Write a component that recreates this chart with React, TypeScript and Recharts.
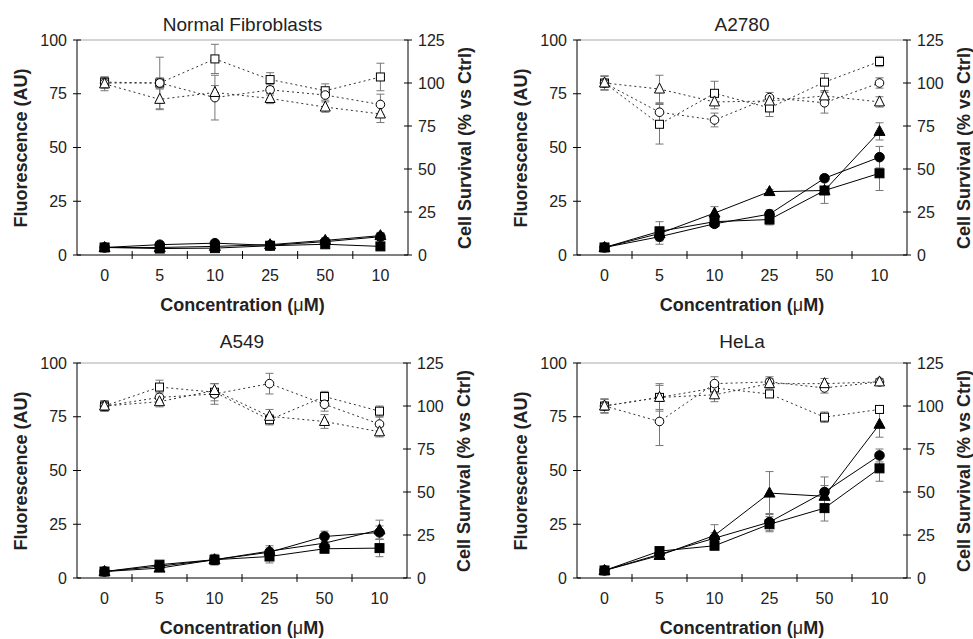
import React from 'react';
import { ComposedChart, Line, XAxis, YAxis, ErrorBar, ReferenceLine } from 'recharts';

const concentrations = ['0', '5', '10', '25', '50', '100'];
const concLabels = ['0', '5', '10', '25', '50', '10'];
const fluoTicks = [0, 25, 50, 75, 100];
const survTicks = [0, 25, 50, 75, 100, 125];

// Normal Fibroblasts
const nfFluoCircle = [3.5, 4.8, 5.5, 4.5, 6.2, 8.5];
const nfFluoCircleErr = [0.5, 0.8, 0.8, 0.8, 1.2, 1.5];
const nfFluoSquare = [3.5, 3.0, 3.2, 4.3, 5.0, 4.0];
const nfFluoSquareErr = [0.5, 0.6, 0.6, 0.8, 1.0, 1.0];
const nfFluoTriangle = [3.5, 3.5, 4.0, 4.8, 6.8, 9.0];
const nfFluoTriangleErr = [0.5, 0.6, 0.8, 0.8, 1.2, 1.5];
const nfSurvCircle = [100, 100, 91.5, 96, 93, 87.5];
const nfSurvCircleErr = [3, 3, 13, 3, 3, 6];
const nfSurvSquare = [100.5, 100, 114, 102, 95.5, 103.5];
const nfSurvSquareErr = [3, 15, 8.5, 4, 4, 8];
const nfSurvTriangle = [99.5, 90.5, 94.5, 91, 86, 82];
const nfSurvTriangleErr = [4, 6, 4, 3, 3, 5];

// A2780
const a2FluoCircle = [3.5, 8.5, 14.5, 19, 35.7, 45.5];
const a2FluoCircleErr = [0.5, 3.5, 1.5, 2, 1.5, 5];
const a2FluoSquare = [3.5, 11, 15.5, 16.5, 30, 38];
const a2FluoSquareErr = [0.5, 4.5, 1.5, 2.5, 6, 8];
const a2FluoTriangle = [3.5, 10, 19.5, 29.5, 30, 57.5];
const a2FluoTriangleErr = [0.5, 3, 3, 1, 1.5, 4];
const a2SurvCircle = [100, 83, 78.5, 91.5, 88.5, 100];
const a2SurvCircleErr = [4, 5, 4, 3, 6, 3];
const a2SurvSquare = [100, 76, 94, 85.5, 100.5, 112.5];
const a2SurvSquareErr = [4, 11.5, 7, 5, 5, 3];
const a2SurvTriangle = [100, 96.5, 89, 89.5, 92.5, 89];
const a2SurvTriangleErr = [4, 8, 4, 3, 3, 3];

// A549
const a5FluoCircle = [3, 5.5, 8.5, 12, 19.3, 21.2];
const a5FluoCircleErr = [0.5, 1, 1.5, 2, 2.5, 3];
const a5FluoSquare = [3, 6.2, 8.5, 10, 13.6, 13.9];
const a5FluoSquareErr = [0.5, 1.5, 2.5, 3, 1.5, 4];
const a5FluoTriangle = [3, 4.6, 8.5, 12.5, 16.2, 22.4];
const a5FluoTriangleErr = [0.5, 1, 2, 2.5, 2, 4.5];
const a5SurvCircle = [100, 105, 107, 113, 101, 89.5];
const a5SurvCircleErr = [3, 3, 6, 6, 4, 4];
const a5SurvSquare = [100, 111, 108, 92, 105.5, 97];
const a5SurvSquareErr = [3, 4, 5, 3, 3, 3];
const a5SurvTriangle = [100, 102.5, 109, 94, 91, 85];
const a5SurvTriangleErr = [3, 3, 4, 4, 4, 3];

// HeLa
const hlFluoCircle = [3.5, 11, 18.5, 26, 40, 57];
const hlFluoCircleErr = [0.5, 1.5, 2.5, 4, 7, 3];
const hlFluoSquare = [3.5, 12.5, 15, 25, 32.5, 51];
const hlFluoSquareErr = [0.5, 2, 1.5, 3.5, 6, 6];
const hlFluoTriangle = [3.5, 10.5, 19.8, 39.5, 38, 71.5];
const hlFluoTriangleErr = [0.5, 1.5, 5, 10, 5, 6];
const hlSurvCircle = [100, 91, 113, 114, 110.5, 114];
const hlSurvCircleErr = [4, 14, 4, 3, 3, 2];
const hlSurvSquare = [100, 105, 110.5, 107, 93.5, 98];
const hlSurvSquareErr = [4, 8, 3, 2, 3, 2];
const hlSurvTriangle = [100, 105, 106.5, 113, 113, 114];
const hlSurvTriangleErr = [4, 7, 4, 3, 3, 2];

const FONT = '"Liberation Sans", Arial, Helvetica, sans-serif';

const buildRows = (s: number[][]) =>
  concentrations.map((c, i) => ({
    conc: c,
    fc: s[0][i], fcE: s[1][i],
    fs: s[2][i], fsE: s[3][i],
    ft: s[4][i], ftE: s[5][i],
    sc: s[6][i], scE: s[7][i],
    ss: s[8][i], ssE: s[9][i],
    st: s[10][i], stE: s[11][i],
  }));

const Marker = ({ cx, cy, shape, filled }: any) => {
  const fill = filled ? '#000' : '#fff';
  if (shape === 'circle') {
    return <circle cx={cx} cy={cy} r={filled ? 4.8 : 4.3} fill={fill} stroke="#000" strokeWidth={1} />;
  }
  if (shape === 'square') {
    const h = filled ? 4.5 : 4;
    return <rect x={cx - h} y={cy - h} width={h * 2} height={h * 2} fill={fill} stroke="#000" strokeWidth={1} />;
  }
  const w = filled ? 5.5 : 5;
  return (
    <polygon
      points={`${cx},${cy - 6} ${cx - w},${cy + 4} ${cx + w},${cy + 4}`}
      fill={fill}
      stroke="#000"
      strokeWidth={1}
    />
  );
};

const makeDot = (shape: string, filled: boolean) => (props: any) => {
  const { cx, cy, index } = props;
  const key = `${shape}-${filled}-${index}`;
  if (cx == null || cy == null) return <g key={key} />;
  return <Marker key={key} cx={cx} cy={cy} shape={shape} filled={filled} />;
};

const YTick = ({ x, y, payload, side }: any) => {
  const left = side === 'left';
  return (
    <g>
      <line x1={x - 4} y1={y} x2={x + 4} y2={y} stroke="#000" />
      <text
        x={left ? x - 10 : x + 10}
        y={y + 5.5}
        textAnchor={left ? 'end' : 'start'}
        fontSize={16}
        fontFamily={FONT}
        fill="#222"
      >
        {payload.value}
      </text>
    </g>
  );
};

const XTick = ({ x, y, payload, index, band }: any) => (
  <g>
    {index > 0 && <line x1={x - band / 2} y1={y - 4} x2={x - band / 2} y2={y + 4} stroke="#000" />}
    <text x={x} y={y + 26} textAnchor="middle" fontSize={16} fontFamily={FONT} fill="#222">
      {concLabels[index]}
    </text>
  </g>
);

interface PanelProps {
  title: string;
  series: number[][];
  box: { left: number; top: number; width: number; height: number };
  plot: { left: number; right: number; top: number; bottom: number };
  titleGap: number;
}

const Panel: React.FC<PanelProps> = ({ title, series, box, plot, titleGap }) => {
  const rows = buildRows(series);
  const axisW = 50;
  const xAxisH = 40;
  const margin = {
    top: plot.top - box.top,
    left: plot.left - box.left - axisW,
    right: box.left + box.width - plot.right - axisW,
    bottom: box.top + box.height - plot.bottom - xAxisH,
  };
  const band = (plot.right - plot.left) / concentrations.length;
  const midX = (plot.left + plot.right) / 2;
  const midY = (plot.top + plot.bottom) / 2;
  const errStyle = { stroke: '#777', strokeWidth: 1 };

  return (
    <>
      <div style={{ position: 'absolute', left: box.left, top: box.top }}>
        <ComposedChart width={box.width} height={box.height} data={rows} margin={margin}>
          <XAxis
            dataKey="conc"
            scale="band"
            tickSize={0}
            tickMargin={0}
            height={xAxisH}
            stroke="#000"
            tick={<XTick band={band} />}
            interval={0}
          />
          <YAxis
            yAxisId="left"
            domain={[0, 100]}
            ticks={fluoTicks}
            width={axisW}
            tickSize={0}
            tickMargin={0}
            stroke="#000"
            tick={<YTick side="left" />}
          />
          <YAxis
            yAxisId="right"
            orientation="right"
            domain={[0, 125]}
            ticks={survTicks}
            width={axisW}
            tickSize={0}
            tickMargin={0}
            stroke="#000"
            tick={<YTick side="right" />}
          />
          <ReferenceLine yAxisId="left" y={100} stroke="#aaa" strokeWidth={1} />

          <Line yAxisId="right" dataKey="ss" stroke="#333" strokeDasharray="2 3" dot={makeDot('square', false)} isAnimationActive={false}>
            <ErrorBar dataKey="ssE" width={4} {...errStyle} />
          </Line>
          <Line yAxisId="right" dataKey="sc" stroke="#333" strokeDasharray="2 3" dot={makeDot('circle', false)} isAnimationActive={false}>
            <ErrorBar dataKey="scE" width={4} {...errStyle} />
          </Line>
          <Line yAxisId="right" dataKey="st" stroke="#333" strokeDasharray="2 3" dot={makeDot('triangle', false)} isAnimationActive={false}>
            <ErrorBar dataKey="stE" width={4} {...errStyle} />
          </Line>

          <Line yAxisId="left" dataKey="fs" stroke="#000" dot={makeDot('square', true)} isAnimationActive={false}>
            <ErrorBar dataKey="fsE" width={4} {...errStyle} />
          </Line>
          <Line yAxisId="left" dataKey="fc" stroke="#000" dot={makeDot('circle', true)} isAnimationActive={false}>
            <ErrorBar dataKey="fcE" width={4} {...errStyle} />
          </Line>
          <Line yAxisId="left" dataKey="ft" stroke="#000" dot={makeDot('triangle', true)} isAnimationActive={false}>
            <ErrorBar dataKey="ftE" width={4} {...errStyle} />
          </Line>
        </ComposedChart>
      </div>
      <div style={{ ...centered(midX, plot.top - titleGap), fontSize: 19 }}>{title}</div>
      <div style={{ ...centered(plot.left - 56, midY), ...bold, transform: 'translate(-50%, -50%) rotate(-90deg)' }}>
        Fluorescence (AU)
      </div>
      <div style={{ ...centered(plot.right + 57, midY), ...bold, transform: 'translate(-50%, -50%) rotate(-90deg)' }}>
        Cell Survival (% vs Ctrl)
      </div>
      <div style={{ ...centered(midX, plot.bottom + 50), ...bold }}>
        Concentration (<span style={{ fontWeight: 'normal' }}>μ</span>M)
      </div>
    </>
  );
};

const bold = { fontWeight: 'bold' as const, fontSize: 18 };

const centered = (x: number, y: number): React.CSSProperties => ({
  position: 'absolute',
  left: x,
  top: y,
  transform: 'translate(-50%, -50%)',
  whiteSpace: 'nowrap',
  fontFamily: FONT,
  color: '#222',
  lineHeight: 1,
});

export default function App() {
  return (
    <div
      style={{
        position: 'absolute',
        left: 0,
        top: 0,
        width: 973,
        height: 639,
        overflow: 'hidden',
        background: '#fff',
        fontFamily: FONT,
      }}
    >
      <Panel
        title="Normal Fibroblasts"
        series={[nfFluoCircle, nfFluoCircleErr, nfFluoSquare, nfFluoSquareErr, nfFluoTriangle, nfFluoTriangleErr,
          nfSurvCircle, nfSurvCircleErr, nfSurvSquare, nfSurvSquareErr, nfSurvTriangle, nfSurvTriangleErr]}
        box={{ left: 0, top: 0, width: 486, height: 320 }}
        plot={{ left: 77, right: 408, top: 40, bottom: 255 }}
        titleGap={16}
      />
      <Panel
        title="A2780"
        series={[a2FluoCircle, a2FluoCircleErr, a2FluoSquare, a2FluoSquareErr, a2FluoTriangle, a2FluoTriangleErr,
          a2SurvCircle, a2SurvCircleErr, a2SurvSquare, a2SurvSquareErr, a2SurvTriangle, a2SurvTriangleErr]}
        box={{ left: 487, top: 0, width: 486, height: 320 }}
        plot={{ left: 577, right: 907, top: 40, bottom: 255 }}
        titleGap={16}
      />
      <Panel
        title="A549"
        series={[a5FluoCircle, a5FluoCircleErr, a5FluoSquare, a5FluoSquareErr, a5FluoTriangle, a5FluoTriangleErr,
          a5SurvCircle, a5SurvCircleErr, a5SurvSquare, a5SurvSquareErr, a5SurvTriangle, a5SurvTriangleErr]}
        box={{ left: 0, top: 323, width: 486, height: 316 }}
        plot={{ left: 77, right: 407, top: 363, bottom: 578 }}
        titleGap={22}
      />
      <Panel
        title="HeLa"
        series={[hlFluoCircle, hlFluoCircleErr, hlFluoSquare, hlFluoSquareErr, hlFluoTriangle, hlFluoTriangleErr,
          hlSurvCircle, hlSurvCircleErr, hlSurvSquare, hlSurvSquareErr, hlSurvTriangle, hlSurvTriangleErr]}
        box={{ left: 487, top: 323, width: 486, height: 316 }}
        plot={{ left: 577, right: 907, top: 363, bottom: 578 }}
        titleGap={22}
      />
    </div>
  );
}
